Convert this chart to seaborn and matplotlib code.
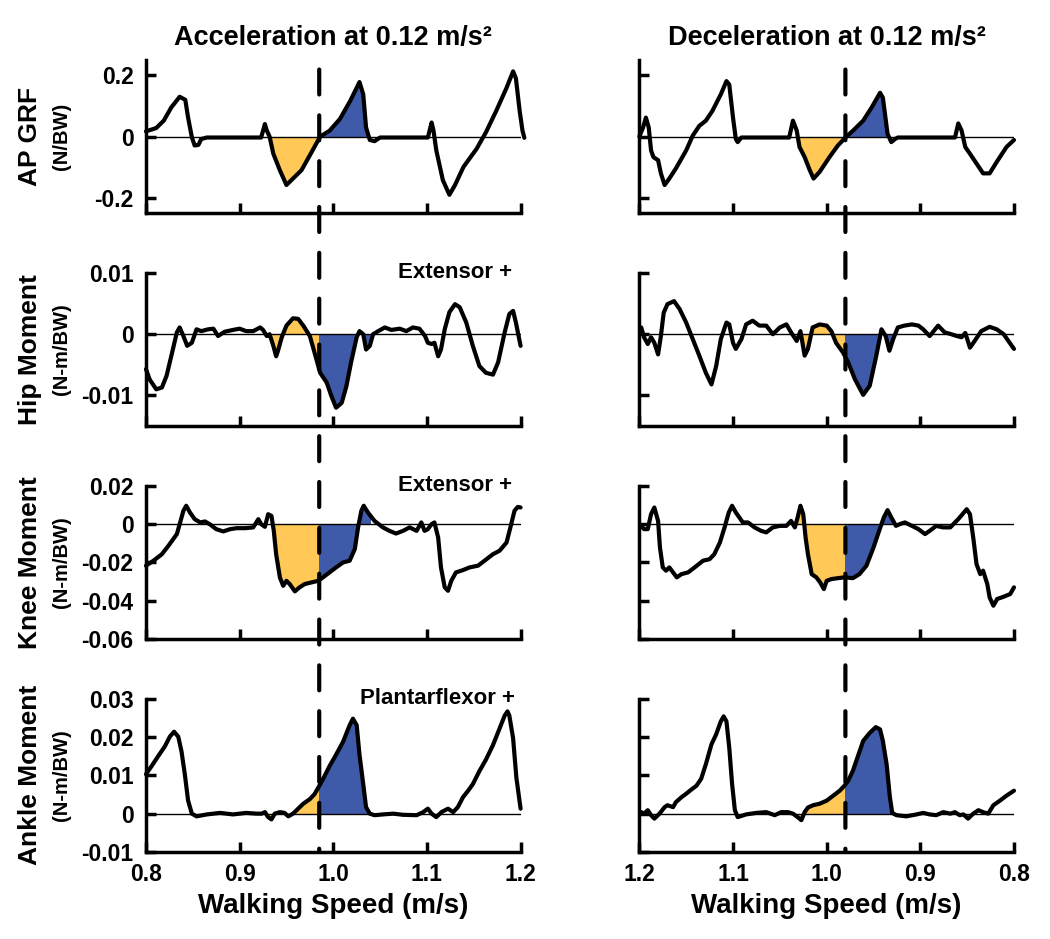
import pandas as pd
import seaborn as sns
import matplotlib.pyplot as plt
from matplotlib.patches import Rectangle, ConnectionPatch

# values: (walking speed, value)
acc_grf = [(0.800, 0.017), (0.811, 0.028), (0.819, 0.052), (0.827, 0.095), (0.836, 0.130), (0.842, 0.120),
           (0.845, 0.062), (0.849, -0.002), (0.852, -0.029), (0.856, -0.027), (0.859, -0.008), (0.865, -0.003),
           (0.923, -0.003), (0.927, 0.041), (0.929, 0.020), (0.932, 0.000), (0.936, -0.056), (0.943, -0.110),
           (0.950, -0.158), (0.957, -0.137), (0.966, -0.110), (0.975, -0.061), (0.986, 0.000), (0.996, 0.019),
           (1.007, 0.057), (1.018, 0.116), (1.028, 0.178), (1.032, 0.138), (1.035, 0.030), (1.039, -0.011),
           (1.044, -0.015), (1.050, -0.003), (1.101, -0.003), (1.105, 0.046), (1.107, 0.020), (1.110, -0.045),
           (1.117, -0.142), (1.124, -0.190), (1.130, -0.158), (1.139, -0.099), (1.153, -0.040), (1.163, 0.014),
           (1.174, 0.084), (1.185, 0.159), (1.192, 0.213), (1.195, 0.190), (1.199, 0.084), (1.202, 0.020),
           (1.204, -0.004)]
dec_grf = [(1.200, 0.000), (1.196, 0.030), (1.193, 0.062), (1.190, 0.030), (1.1875, -0.045), (1.185, -0.067),
           (1.180, -0.077), (1.177, -0.120), (1.173, -0.158), (1.168, -0.137), (1.161, -0.104), (1.150, -0.045),
           (1.143, 0.003), (1.136, 0.035), (1.129, 0.052), (1.122, 0.084), (1.113, 0.138), (1.107, 0.181),
           (1.104, 0.170), (1.100, 0.062), (1.097, -0.008), (1.095, -0.018), (1.091, -0.003), (1.040, -0.003),
           (1.036, 0.052), (1.032, 0.020), (1.029, -0.034), (1.0235, -0.067), (1.018, -0.110), (1.014, -0.137),
           (1.0075, -0.115), (0.997, -0.067), (0.988, -0.029), (0.979, 0.000), (0.972, 0.019), (0.961, 0.052),
           (0.952, 0.095), (0.943, 0.143), (0.940, 0.127), (0.935, 0.009), (0.931, -0.018), (0.927, -0.008),
           (0.924, -0.003), (0.863, -0.003), (0.8595, 0.043), (0.856, 0.020), (0.852, -0.034), (0.847, -0.056),
           (0.840, -0.088), (0.833, -0.120), (0.826, -0.120), (0.8185, -0.083), (0.808, -0.034), (0.800, -0.011)]

acc_hip = [(0.800, -0.0057), (0.804, -0.0074), (0.811, -0.0090), (0.817, -0.0087), (0.822, -0.0068),
           (0.827, -0.0036), (0.833, 0.0003), (0.836, 0.0011), (0.840, -0.0003), (0.844, -0.0019),
           (0.849, -0.0014), (0.854, 0.0008), (0.859, 0.0005), (0.8665, 0.0008), (0.872, 0.0009),
           (0.877, -0.0003), (0.884, 0.0004), (0.893, 0.0007), (0.900, 0.0009), (0.907, 0.0005),
           (0.9145, 0.0005), (0.922, 0.0011), (0.925, 0.0007), (0.929, -0.0003), (0.932, 0.0000),
           (0.936, -0.0019), (0.939, -0.0036), (0.941, -0.0027), (0.945, -0.0005), (0.950, 0.0014),
           (0.957, 0.0026), (0.9625, 0.0025), (0.968, 0.0014), (0.975, -0.0003), (0.980, -0.0030),
           (0.986, -0.0063), (0.993, -0.0079), (0.998, -0.0101), (1.003, -0.0120), (1.009, -0.0112),
           (1.014, -0.0085), (1.019, -0.0046), (1.025, -0.0005), (1.028, 0.0005), (1.032, 0.0000),
           (1.035, -0.0025), (1.039, -0.0019), (1.0425, 0.0000), (1.048, 0.0005), (1.055, 0.0011),
           (1.062, 0.0007), (1.071, 0.0009), (1.078, 0.0005), (1.085, 0.0011), (1.092, 0.0009),
           (1.098, -0.0003), (1.101, -0.0014), (1.105, -0.0016), (1.108, -0.0014), (1.112, -0.0036),
           (1.115, -0.0025), (1.119, 0.0008), (1.124, 0.0036), (1.130, 0.0049), (1.135, 0.0044),
           (1.142, 0.0019), (1.149, -0.0019), (1.156, -0.0052), (1.163, -0.0063), (1.1705, -0.0066),
           (1.176, -0.0046), (1.183, 0.0003), (1.188, 0.0033), (1.192, 0.0038), (1.195, 0.0019),
           (1.200, -0.0019)]
dec_hip = [(1.198, 0.0011), (1.195, -0.0005), (1.191, -0.0016), (1.1875, -0.0005), (1.184, -0.0014),
           (1.180, -0.0033), (1.177, -0.0003), (1.174, 0.0035), (1.170, 0.0049), (1.163, 0.0054),
           (1.157, 0.0041), (1.150, 0.0019), (1.143, -0.0008), (1.136, -0.0035), (1.129, -0.0063),
           (1.123, -0.0082), (1.118, -0.0052), (1.113, -0.0008), (1.107, 0.0019), (1.104, 0.0016),
           (1.100, -0.0014), (1.097, -0.0024), (1.091, -0.0008), (1.086, 0.0016), (1.079, 0.0022),
           (1.072, 0.0014), (1.0645, 0.0014), (1.0575, 0.0000), (1.050, 0.0011), (1.043, 0.0016),
           (1.038, 0.0003), (1.032, -0.0011), (1.028, 0.0005), (1.0235, -0.0035), (1.020, -0.0024),
           (1.015, 0.0011), (1.0075, 0.0016), (1.000, 0.0014), (0.995, 0.0005), (0.990, -0.0014),
           (0.9825, -0.0030), (0.977, -0.0046), (0.970, -0.0073), (0.961, -0.0099), (0.954, -0.0084),
           (0.947, -0.0035), (0.9415, 0.0008), (0.937, -0.0003), (0.933, -0.0027), (0.929, -0.0008),
           (0.924, 0.0011), (0.917, 0.0014), (0.909, 0.0016), (0.902, 0.0014), (0.897, 0.0008),
           (0.890, -0.0003), (0.881, 0.0014), (0.874, 0.0003), (0.867, 0.0000), (0.861, -0.0003),
           (0.856, -0.0005), (0.852, 0.0002), (0.847, -0.0022), (0.842, -0.0011), (0.835, 0.0005),
           (0.826, 0.0012), (0.8185, 0.0008), (0.811, 0.0000), (0.806, -0.0011), (0.800, -0.0024)]

acc_knee = [(0.800, -0.0217), (0.808, -0.0191), (0.817, -0.0157), (0.824, -0.0113), (0.833, -0.0052),
            (0.836, 0.0000), (0.840, 0.0070), (0.843, 0.0096), (0.847, 0.0061), (0.852, 0.0026),
            (0.858, 0.0009), (0.863, 0.0014), (0.868, 0.0000), (0.875, -0.0026), (0.8825, -0.0038),
            (0.890, -0.0026), (0.897, -0.0021), (0.906, -0.0021), (0.9145, -0.0017), (0.920, 0.0026),
            (0.923, 0.0000), (0.927, -0.0014), (0.9305, 0.0052), (0.934, 0.0043), (0.9365, -0.0035),
            (0.939, -0.0157), (0.943, -0.0278), (0.9465, -0.0322), (0.950, -0.0296), (0.9535, -0.0313),
            (0.959, -0.0351), (0.964, -0.0330), (0.9695, -0.0313), (0.977, -0.0304), (0.984, -0.0296),
            (0.989, -0.0278), (0.996, -0.0252), (1.003, -0.0226), (1.0105, -0.0200), (1.0175, -0.0191),
            (1.023, -0.0130), (1.0265, -0.0017), (1.030, 0.0070), (1.0325, 0.0096), (1.037, 0.0061),
            (1.044, 0.0017), (1.053, -0.0017), (1.060, -0.0035), (1.067, -0.0049), (1.0745, -0.0035),
            (1.0815, -0.0017), (1.089, -0.0035), (1.094, 0.0009), (1.0975, -0.0035), (1.101, -0.0026),
            (1.105, 0.0000), (1.108, 0.0009), (1.112, -0.0070), (1.115, -0.0226), (1.119, -0.0330),
            (1.1225, -0.0348), (1.126, -0.0296), (1.131, -0.0252), (1.1385, -0.0240), (1.1455, -0.0226),
            (1.1545, -0.0217), (1.1615, -0.0191), (1.1705, -0.0157), (1.1775, -0.0139), (1.185, -0.0096),
            (1.190, 0.0000), (1.1935, 0.0070), (1.197, 0.0090), (1.200, 0.0087)]
dec_knee = [(1.198, -0.0009), (1.195, -0.0026), (1.191, -0.0026), (1.1875, 0.0052), (1.184, 0.0087),
            (1.180, 0.0017), (1.178, -0.0122), (1.175, -0.0226), (1.1715, -0.0243), (1.168, -0.0226),
            (1.164, -0.0252), (1.160, -0.0278), (1.155, -0.0261), (1.148, -0.0252), (1.141, -0.0226),
            (1.132, -0.0191), (1.125, -0.0183), (1.120, -0.0157), (1.114, -0.0096), (1.109, -0.0017),
            (1.1045, 0.0061), (1.101, 0.0096), (1.097, 0.0061), (1.0895, 0.0009), (1.084, 0.0009),
            (1.077, -0.0017), (1.070, -0.0035), (1.0645, -0.0043), (1.0575, -0.0017), (1.050, -0.0009),
            (1.043, -0.0009), (1.038, 0.0017), (1.034, -0.0017), (1.031, 0.0035), (1.028, 0.0096),
            (1.025, 0.0052), (1.0225, -0.0070), (1.020, -0.0157), (1.016, -0.0261), (1.011, -0.0278),
            (1.007, -0.0304), (1.003, -0.0339), (1.000, -0.0296), (0.995, -0.0287), (0.988, -0.0282),
            (0.981, -0.0278), (0.972, -0.0282), (0.965, -0.0261), (0.9575, -0.0217), (0.950, -0.0122),
            (0.944, -0.0035), (0.939, 0.0035), (0.935, 0.0073), (0.931, 0.0035), (0.926, -0.0009),
            (0.922, 0.0000), (0.9165, 0.0009), (0.909, -0.0009), (0.902, -0.0026), (0.895, -0.0052),
            (0.890, -0.0035), (0.883, -0.0009), (0.876, -0.0017), (0.868, -0.0017), (0.863, 0.0009),
            (0.8595, 0.0026), (0.855, 0.0052), (0.8505, 0.0078), (0.847, 0.0052), (0.8435, -0.0070),
            (0.840, -0.0209), (0.836, -0.0261), (0.833, -0.0243), (0.8285, -0.0313), (0.826, -0.0383),
            (0.822, -0.0426), (0.818, -0.0391), (0.811, -0.0379), (0.804, -0.0365), (0.800, -0.0330)]

acc_ankle = [(0.800, 0.0103), (0.806, 0.0124), (0.813, 0.0150), (0.820, 0.0175), (0.8255, 0.0201),
             (0.830, 0.0214), (0.8345, 0.0201), (0.838, 0.0162), (0.8415, 0.0103), (0.845, 0.0034),
             (0.849, 0.0000), (0.854, -0.0007), (0.865, -0.0002), (0.879, 0.0002), (0.893, -0.0002),
             (0.907, 0.0002), (0.918, 0.0000), (0.9235, 0.0000), (0.927, 0.0004), (0.9305, -0.0009),
             (0.934, -0.0015), (0.9375, 0.0000), (0.943, 0.0004), (0.948, 0.0002), (0.952, -0.0007),
             (0.957, 0.0000), (0.9625, 0.0013), (0.968, 0.0026), (0.975, 0.0038), (0.980, 0.0051),
             (0.984, 0.0068), (0.989, 0.0090), (0.996, 0.0124), (1.003, 0.0154), (1.0105, 0.0188),
             (1.0175, 0.0231), (1.021, 0.0248), (1.025, 0.0231), (1.028, 0.0154), (1.032, 0.0077),
             (1.035, 0.0017), (1.039, 0.0000), (1.044, -0.0004), (1.053, -0.0002), (1.064, 0.0000),
             (1.0745, -0.0003), (1.089, -0.0004), (1.096, 0.0004), (1.101, 0.0013), (1.105, 0.0000),
             (1.110, -0.0009), (1.1155, 0.0004), (1.1225, 0.0013), (1.128, 0.0004), (1.133, 0.0017),
             (1.1385, 0.0043), (1.144, 0.0060), (1.149, 0.0077), (1.156, 0.0111), (1.163, 0.0141),
             (1.1705, 0.0179), (1.1775, 0.0222), (1.183, 0.0256), (1.186, 0.0267), (1.188, 0.0256),
             (1.192, 0.0197), (1.1955, 0.0094), (1.200, 0.0013)]
dec_ankle = [(1.198, 0.0004), (1.195, 0.0000), (1.191, 0.0009), (1.1875, -0.0004), (1.184, -0.0013),
             (1.1785, 0.0000), (1.173, 0.0017), (1.170, 0.0022), (1.164, 0.0017), (1.161, 0.0030),
             (1.155, 0.0043), (1.150, 0.0052), (1.145, 0.0062), (1.139, 0.0073), (1.134, 0.0091),
             (1.129, 0.0129), (1.123, 0.0181), (1.118, 0.0207), (1.113, 0.0241), (1.110, 0.0254),
             (1.107, 0.0241), (1.104, 0.0172), (1.101, 0.0078), (1.098, 0.0009), (1.095, -0.0009),
             (1.086, -0.0002), (1.075, 0.0002), (1.0645, 0.0004), (1.0555, -0.0004), (1.0485, 0.0004),
             (1.0415, 0.0004), (1.036, 0.0000), (1.031, -0.0009), (1.027, -0.0017), (1.0235, 0.0004),
             (1.020, 0.0016), (1.0145, 0.0022), (1.0075, 0.0026), (1.000, 0.0034), (0.993, 0.0047),
             (0.986, 0.0060), (0.981, 0.0073), (0.977, 0.0086), (0.972, 0.0112), (0.9665, 0.0151),
             (0.961, 0.0190), (0.954, 0.0211), (0.9475, 0.0226), (0.943, 0.0220), (0.940, 0.0190),
             (0.936, 0.0129), (0.9325, 0.0043), (0.930, 0.0002), (0.9255, -0.0004), (0.915, -0.0007),
             (0.904, -0.0002), (0.897, 0.0002), (0.890, -0.0002), (0.883, -0.0004), (0.8755, 0.0004),
             (0.868, 0.0000), (0.863, 0.0004), (0.858, -0.0004), (0.854, -0.0002), (0.849, -0.0013),
             (0.8435, 0.0000), (0.838, 0.0009), (0.833, 0.0004), (0.8275, 0.0000), (0.822, 0.0022),
             (0.815, 0.0034), (0.808, 0.0047), (0.800, 0.0060)]

# speed at the dashed line, and where the yellow / blue shading starts and stops
acc_dash = 0.985
dec_dash = 0.980
acc_fill = [(0.932, 1.036), (0.929, 1.042), (0.936, 1.039), (0.928, 1.039)]
dec_fill = [(1.031, 0.934), (1.031, 0.929), (1.031, 0.929), (1.030, 0.930)]

row_names = ['AP GRF', 'Hip Moment', 'Knee Moment', 'Ankle Moment']
row_units = ['(N/BW)', '(N-m/BW)', '(N-m/BW)', '(N-m/BW)']
row_ylims = [(-0.25, 0.25), (-0.015, 0.01), (-0.06, 0.02), (-0.01, 0.03)]
row_yticks = [[-0.2, 0, 0.2], [-0.01, 0, 0.01], [-0.06, -0.04, -0.02, 0, 0.02], [-0.01, 0, 0.01, 0.02, 0.03]]
row_ylabels = [['-0.2', '0', '0.2'], ['-0.01', '0', '0.01'], ['-0.06', '-0.04', '-0.02', '0', '0.02'],
               ['-0.01', '0', '0.01', '0.02', '0.03']]
row_notes = ['', 'Extensor +', 'Extensor +', 'Plantarflexor +']
speed_ticks = [0.8, 0.9, 1.0, 1.1, 1.2]
speed_labels = ['0.8', '0.9', '1.0', '1.1', '1.2']

yellow = '#FFC857'
blue = '#3F5AA9'

sns.set_style('ticks')
plt.rcParams['font.family'] = ['Liberation Sans', 'DejaVu Sans']
plt.rcParams['font.weight'] = 'bold'
for key in ['text.color', 'axes.labelcolor', 'xtick.color', 'ytick.color', 'axes.edgecolor']:
    plt.rcParams[key] = 'black'

fig, axes = plt.subplots(4, 2, figsize=(10.5, 9.39), dpi=100)
fig.subplots_adjust(left=0.139, right=0.9657, top=0.9361, bottom=0.0927, wspace=0.317, hspace=0.39)

columns = [
    ([acc_grf, acc_hip, acc_knee, acc_ankle], acc_dash, acc_fill, 'Acceleration at 0.12 m/s²'),
    ([dec_grf, dec_hip, dec_knee, dec_ankle], dec_dash, dec_fill, 'Deceleration at 0.12 m/s²'),
]

for c, (series, dash, fills, title) in enumerate(columns):
    for r in range(4):
        ax = axes[r, c]
        df = pd.DataFrame(series[r], columns=['speed', 'value'])
        ymin, ymax = row_ylims[r]

        # shaded areas between curve and zero, clipped to speed windows
        start, end = fills[r]
        for lo, hi, col in [(start, dash, yellow), (dash, end, blue)]:
            poly = ax.fill_between(df.speed, df.value, 0, color=col, lw=0, zorder=1)
            box = Rectangle((min(lo, hi), ymin), abs(hi - lo), ymax - ymin, transform=ax.transData)
            poly.set_clip_path(box)

        ax.axhline(0, color='black', lw=1.0, zorder=2)
        sns.lineplot(data=df, x='speed', y='value', ax=ax, color='black', linewidth=3.0,
                     sort=False, estimator=None, zorder=3, clip_on=False,
                     solid_joinstyle='round', solid_capstyle='round')

        ax.set_ylim(ymin, ymax)
        if c == 0:
            ax.set_xlim(0.8, 1.2)
        else:
            ax.set_xlim(1.2, 0.8)
        ax.set_xticks(speed_ticks)
        ax.set_xticklabels(speed_labels)
        ax.set_yticks(row_yticks[r])
        ax.set_yticklabels(row_ylabels[r])
        ax.set_xlabel('')
        ax.set_ylabel('')

        sns.despine(ax=ax)
        for s in ['left', 'bottom']:
            ax.spines[s].set_linewidth(2.5)
        ax.tick_params(direction='in', length=7, width=2.5, labelsize=16.5, color='black')
        ax.tick_params(axis='x', pad=8)
        ax.tick_params(axis='y', pad=9)
        if c == 1:
            ax.tick_params(labelleft=False)
        if r < 3:
            ax.tick_params(labelbottom=False)
        else:
            ax.set_xlabel('Walking Speed (m/s)', fontsize=20, fontweight='bold', labelpad=5)

        if c == 0 and row_notes[r]:
            ax.text(0.985 if r == 3 else 0.978, 1.0, row_notes[r], transform=ax.transAxes,
                    ha='right', va='center', fontsize=16, fontweight='bold')

        if c == 0:
            pos = ax.get_position()
            yc = (pos.y0 + pos.y1) / 2
            fig.text(0.029, yc, row_names[r], rotation=90, ha='center', va='center',
                     fontsize=19, fontweight='bold')
            fig.text(0.059, yc, row_units[r], rotation=90, ha='center', va='center',
                     fontsize=14.5, fontweight='bold')

    axes[0, c].set_title(title, fontsize=19.5, fontweight='bold', pad=11)

    # dashed line running through all four rows
    con = ConnectionPatch(xyA=(dash, 0.219), coordsA='data', axesA=axes[0, c],
                          xyB=(dash, -0.01), coordsB='data', axesB=axes[3, c],
                          color='black', lw=3, linestyle=(0, (6, 5)), zorder=5)
    fig.add_artist(con)

fig.savefig('out.png', dpi=100)
